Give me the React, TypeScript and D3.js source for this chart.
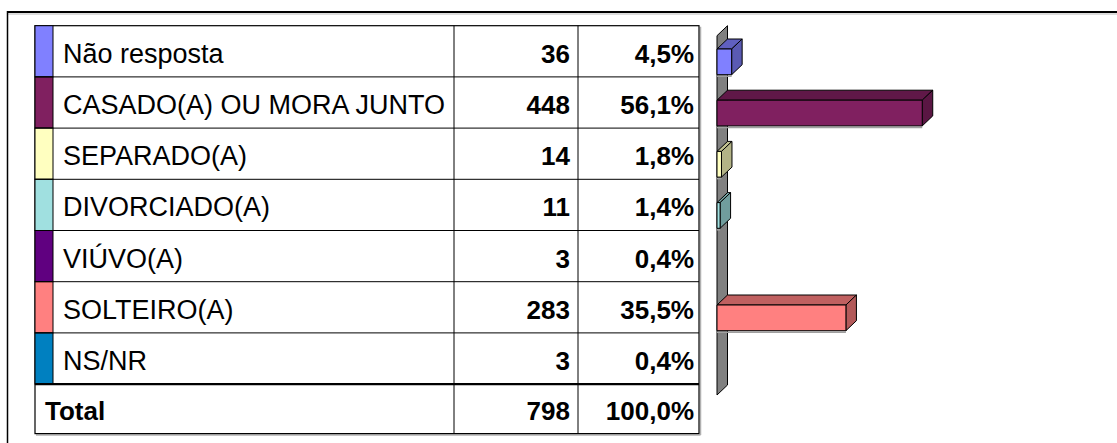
import React from 'react';
import * as d3 from 'd3';

// table data
const labels = [
  'Não resposta',
  'CASADO(A) OU MORA JUNTO',
  'SEPARADO(A)',
  'DIVORCIADO(A)',
  'VIÚVO(A)',
  'SOLTEIRO(A)',
  'NS/NR',
];
const counts = [36, 448, 14, 11, 3, 283, 3];
const percents = ['4,5%', '56,1%', '1,8%', '1,4%', '0,4%', '35,5%', '0,4%'];
const colors = ['#8080FF', '#802060', '#FFFFC0', '#A0E0E0', '#600080', '#FF8080', '#0080C0'];
const totalLabel = 'Total';
const totalCount = 798;
const totalPercent = '100,0%';

const W = 1117;
const H = 443;
const font = '"Liberation Sans", Arial, sans-serif';

// table geometry
const tableLeft = 35;
const swatchRight = 53;
const labelRight = 454;
const countRight = 578;
const pctRight = 699;
const tableTop = 25.7;
const rowH = 51.2;
const totalH = 49.5;

// 3d bar geometry
const wallX = 717;
const depthX = 10.5;
const depthY = 10;
const wallBottom = 395;
const barOffset = 23.3;
const barH = 25.7;

const App = () => {
  const rowY = d3
    .scaleLinear()
    .domain([0, labels.length])
    .range([tableTop, tableTop + rowH * labels.length]);
  const totalTop = rowY(labels.length);
  const tableBottom = totalTop + totalH;

  const x = d3.scaleLinear().domain([0, 500]).range([715, 946.3]);

  const poly = (pts: number[][]) => pts.map((p) => p.join(',')).join(' ');

  return (
    <svg
      width={W}
      height={H}
      style={{ position: 'fixed', left: 0, top: 0, background: '#fff' }}
      fontFamily={font}
    >
      {/* outer frame */}
      <line x1={7} x2={W} y1={14} y2={14} stroke="#d0d0d0" strokeWidth={1.5} />
      <line x1={7} x2={W} y1={12} y2={12} stroke="#000" strokeWidth={2} />
      <line x1={7.5} x2={7.5} y1={11} y2={H} stroke="#000" strokeWidth={1.5} />

      {/* table */}
      <line x1={pctRight + 1.5} x2={pctRight + 1.5} y1={tableTop + 1} y2={tableBottom + 1.5} stroke="#b0b0b0" strokeWidth={1.5} />
      <line x1={tableLeft + 1} x2={pctRight + 1.5} y1={tableBottom + 1.5} y2={tableBottom + 1.5} stroke="#b0b0b0" strokeWidth={1.5} />
      <rect x={tableLeft} y={tableTop} width={pctRight - tableLeft} height={tableBottom - tableTop} fill="#fff" stroke="#000" strokeWidth={1.2} />

      {labels.map((label, i) => {
        const top = rowY(i);
        return (
          <g key={label}>
            <rect x={tableLeft} y={top} width={swatchRight - tableLeft} height={rowH} fill={colors[i]} stroke="#000" strokeWidth={1} />
            {i > 0 && <line x1={tableLeft} x2={pctRight} y1={top} y2={top} stroke="#000" strokeWidth={1} />}
            <text x={swatchRight + 10} y={top + 37} fontSize={27} fill="#000">
              {label}
            </text>
            <text x={countRight - 8} y={top + 37} fontSize={26} fontWeight="bold" textAnchor="end">
              {counts[i]}
            </text>
            <text x={pctRight - 5} y={top + 37} fontSize={26} fontWeight="bold" textAnchor="end">
              {percents[i]}
            </text>
          </g>
        );
      })}

      <line x1={tableLeft} x2={pctRight} y1={totalTop} y2={totalTop} stroke="#000" strokeWidth={2.2} />
      <text x={tableLeft + 10} y={totalTop + 36} fontSize={26} fontWeight="bold">
        {totalLabel}
      </text>
      <text x={countRight - 8} y={totalTop + 36} fontSize={26} fontWeight="bold" textAnchor="end">
        {totalCount}
      </text>
      <text x={pctRight - 5} y={totalTop + 36} fontSize={26} fontWeight="bold" textAnchor="end">
        {totalPercent}
      </text>

      {[labelRight, countRight].map((cx) => (
        <line key={cx} x1={cx} x2={cx} y1={tableTop} y2={tableBottom} stroke="#000" strokeWidth={1} />
      ))}

      {/* side wall */}
      <polygon
        points={poly([
          [wallX, tableTop + depthY],
          [wallX + depthX, tableTop],
          [wallX + depthX, wallBottom - depthY],
          [wallX, wallBottom],
        ])}
        fill="#808080"
        stroke="#000"
        strokeWidth={1}
      />

      {/* 3d bars */}
      {counts.map((c, i) => {
        const x1 = x(c);
        if (x1 <= wallX) return null;
        const x0 = wallX;
        const y0 = rowY(i) + barOffset;
        const y1 = y0 + barH;
        const base = d3.color(colors[i])!;
        return (
          <g key={i} stroke="#000" strokeWidth={1} strokeLinejoin="round">
            <line x1={x0} x2={x1} y1={y1 + 1.5} y2={y1 + 1.5} stroke="#a0a0a0" strokeWidth={1.5} />
            <polygon
              points={poly([
                [x0, y0],
                [x0 + depthX, y0 - depthY],
                [x1 + depthX, y0 - depthY],
                [x1, y0],
              ])}
              fill={base.darker(0.8).toString()}
            />
            <polygon
              points={poly([
                [x1, y0],
                [x1 + depthX, y0 - depthY],
                [x1 + depthX, y1 - depthY],
                [x1, y1],
              ])}
              fill={base.darker(1).toString()}
            />
            <rect x={x0} y={y0} width={x1 - x0} height={barH} fill={colors[i]} />
          </g>
        );
      })}
    </svg>
  );
};

export default App;
